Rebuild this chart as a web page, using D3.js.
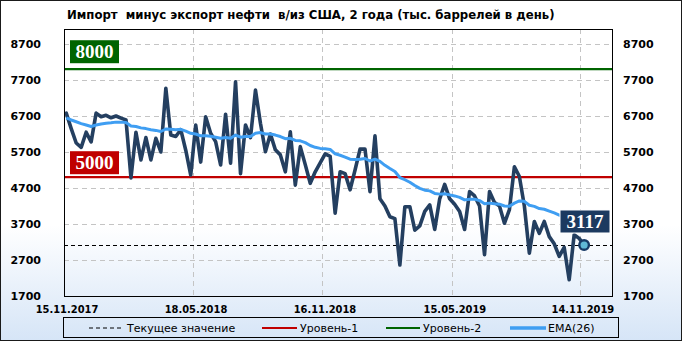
<!DOCTYPE html>
<html><head><meta charset="utf-8">
<script src="https://cdn.jsdelivr.net/npm/d3@7"></script>
<style>body{margin:0;background:#fff}svg{display:block}</style>
</head><body><svg id="c" width="682" height="341"></svg>
<script>
// ---- data ----
const values = [6780,6350,5950,5830,6250,5980,6780,6680,6720,6650,
  6700,6640,6590,4980,6250,5480,6100,5480,6080,5700,
  7470,6170,6130,6320,5750,5060,6450,5420,6680,6220,
  5990,5340,6750,5390,7650,5100,6450,6100,7420,6500,
  5710,6200,5760,5620,5150,6260,4780,5850,5350,4830,
  5150,5400,5650,5580,4000,5150,5100,4650,5200,5780,
  5780,4600,6150,4400,4200,3900,3850,2560,4180,4180,
  3530,3650,4050,4230,3550,4400,4800,4400,4250,4050,
  3550,4600,4480,4200,2850,4600,4300,4200,3720,4100,
  5290,5020,4200,2890,3770,3440,3770,3350,3150,2800,
  3050,2150,3400,3300,3117];
const ema = [6650,6590,6540,6490,6450,6410,6450,6480,6500,6510,
  6530,6530,6520,6420,6410,6370,6350,6320,6300,6270,
  6340,6330,6320,6330,6280,6220,6200,6150,6150,6140,
  6110,6080,6100,6080,6170,6110,6130,6130,6220,6240,
  6200,6200,6170,6130,6070,6080,6020,6010,5960,5880,
  5830,5800,5790,5770,5650,5610,5560,5500,5490,5500,
  5520,5450,5500,5440,5330,5240,5160,4990,4930,4860,
  4770,4690,4640,4620,4550,4530,4540,4510,4480,4440,
  4370,4390,4390,4350,4260,4280,4260,4250,4200,4190,
  4280,4340,4330,4220,4190,4130,4110,4060,4010,3950,
  3900,3800,3780,3750,3720];
const xTickPos = [-0.45, 25.45, 51.35, 77.45, 103.15];
const xTickLabels = ["15.11.2017","18.05.2018","16.11.2018","15.05.2019","14.11.2019"];
const yTicks = [1700,2700,3700,4700,5700,6700,7700,8700];
const level1 = 5000;
const level2 = 8000;
const current = 3117;
const titleText = "Импорт  минус экспорт нефти  в/из США, 2 года (тыс. баррелей в день)";
const legendLabels = ["Текущее значение","Уровень-1","Уровень-2","EMA(26)"];

// ---- drawing ----
const svg = d3.select("#c");
const L=64, R=613, T=29, B=296;
const x = d3.scaleLinear().domain([-0.45, 109.8]).range([L, R]);
const y = d3.scaleLinear().domain([1700, 9117]).range([B, T]);

const defs = svg.append("defs");
const g = defs.append("linearGradient").attr("id","bg").attr("x1",0).attr("y1",0).attr("x2",0).attr("y2",1);
g.append("stop").attr("offset","0").attr("stop-color","#ffffff");
g.append("stop").attr("offset","0.66").attr("stop-color","#ffffff");
g.append("stop").attr("offset","1").attr("stop-color","#d6e5f7");
svg.append("rect").attr("x",0.5).attr("y",0.5).attr("width",681).attr("height",340)
  .attr("fill","url(#bg)").attr("stroke","#1a1a1a");

// grid
const grid = svg.append("g").attr("stroke","#c4c4c4").attr("stroke-dasharray","5,4").attr("stroke-width",1);
yTicks.slice(1).forEach(v=>{
  grid.append("line").attr("x1",L).attr("x2",R).attr("y1",Math.round(y(v))+0.5).attr("y2",Math.round(y(v))+0.5);
});
xTickPos.slice(1).forEach(p=>{
  grid.append("line").attr("y1",T).attr("y2",B).attr("x1",Math.round(x(p))+0.5).attr("x2",Math.round(x(p))+0.5);
});

// levels
svg.append("line").attr("x1",L).attr("x2",R).attr("y1",y(level2)).attr("y2",y(level2))
  .attr("stroke","#006400").attr("stroke-width",2.2);
svg.append("line").attr("x1",L).attr("x2",R).attr("y1",y(level1)).attr("y2",y(level1))
  .attr("stroke","#c00000").attr("stroke-width",2.2);

// current value dashed line
svg.append("line").attr("x1",L).attr("x2",R).attr("y1",Math.round(y(current))+0.5).attr("y2",Math.round(y(current))+0.5)
  .attr("stroke","#000").attr("stroke-width",1.2).attr("stroke-dasharray","4,3");

const line = d3.line().x((d,i)=>x(i)).y(d=>y(d));
svg.append("path").datum(values).attr("d",line).attr("fill","none")
  .attr("stroke","#243f60").attr("stroke-width",3.6).attr("stroke-linejoin","round").attr("stroke-linecap","round");
svg.append("path").datum(ema).attr("d",line).attr("fill","none")
  .attr("stroke","#3f9ef2").attr("stroke-width",3).attr("stroke-linejoin","round");

// current point
svg.append("circle").attr("cx",x(values.length-1)).attr("cy",y(current)).attr("r",4.8)
  .attr("fill","#5fb8d6").attr("stroke","#173a66").attr("stroke-width",2.4);

// level labels
function badge(val, fill, cx0, yBottom, w, stroke){
  const h=23;
  svg.append("rect").attr("x",cx0).attr("y",yBottom-h).attr("width",w).attr("height",h)
    .attr("fill",fill).attr("stroke",stroke||"none").attr("stroke-width",1);
  svg.append("text").attr("x",cx0+w/2).attr("y",yBottom-h/2+6.5).attr("text-anchor","middle")
    .attr("font-family","'Liberation Serif','Times New Roman',serif").attr("font-weight","bold")
    .attr("font-size",19).attr("fill","#fff").text(val);
}
badge(level2, "#006400", 70, y(level2)-6, 49);
badge(level1, "#c00000", 70, y(level1)-3, 49);
badge(current, "#1c3a60", 560, y(current)-12, 50, "#ffffff");

// plot border
svg.append("rect").attr("x",L+0.5).attr("y",T+0.5).attr("width",R-L-1).attr("height",B-T)
  .attr("fill","none").attr("stroke","#000").attr("stroke-width",1);

// y labels
const lab = {"font-family":"'DejaVu Sans',Verdana,sans-serif","font-weight":"bold","font-size":11};
yTicks.forEach(v=>{
  svg.append("text").attr("x",41).attr("y",y(v)+4).attr("text-anchor","end")
    .attr("font-family",lab["font-family"]).attr("font-weight","bold").attr("font-size",11).text(v);
  svg.append("text").attr("x",623).attr("y",y(v)+4).attr("text-anchor","start")
    .attr("font-family",lab["font-family"]).attr("font-weight","bold").attr("font-size",11).text(v);
});
// x labels
xTickPos.forEach((p,i)=>{
  svg.append("text").attr("x",x(p)+3).attr("y",313).attr("text-anchor","middle")
    .attr("font-family","'DejaVu Sans Condensed','DejaVu Sans',sans-serif").attr("font-stretch","condensed")
    .attr("font-weight","bold").attr("font-size",11).text(xTickLabels[i]);
});

// title
svg.append("text").attr("x",67).attr("y",19).attr("xml:space","preserve").style("white-space","pre")
  .attr("font-family","'DejaVu Sans Condensed','DejaVu Sans',sans-serif").attr("font-stretch","condensed")
  .attr("font-weight","bold").attr("font-size",13).text(titleText);

// legend
const lg = svg.append("g");
lg.append("rect").attr("x",63.5).attr("y",317.5).attr("width",555).attr("height",20)
  .attr("fill","none").attr("stroke","#000");
const ly = 328;
const items = [
  {x1:89,x2:122,stroke:"#000",w:1.2,dash:"4,3",tx:127},
  {x1:262,x2:297,stroke:"#c00000",w:2.2,dash:null,tx:300},
  {x1:386,x2:420,stroke:"#006400",w:2.2,dash:null,tx:423},
  {x1:510,x2:546,stroke:"#3f9ef2",w:3.5,dash:null,tx:548}
];
items.forEach((it,i)=>{
  const ln = lg.append("line").attr("x1",it.x1).attr("x2",it.x2).attr("y1",ly).attr("y2",ly)
    .attr("stroke",it.stroke).attr("stroke-width",it.w);
  if(it.dash) ln.attr("stroke-dasharray",it.dash);
  lg.append("text").attr("x",it.tx).attr("y",ly+4).attr("font-family","'DejaVu Sans',Verdana,sans-serif")
    .attr("font-size",11).text(legendLabels[i]);
});
</script></body></html>
